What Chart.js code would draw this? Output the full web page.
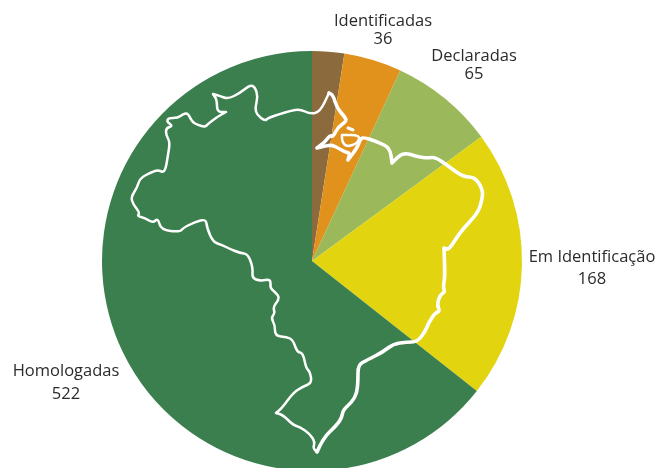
<!DOCTYPE html>
<html lang="pt">
<head>
    <meta charset="UTF-8">
    <title>Terras Indígenas</title>
    <style>
        html, body { margin: 0; padding: 0; background: #fff; overflow: hidden; height: 468px; }
        canvas { display: block; }
    </style>
    <script src="https://cdn.jsdelivr.net/npm/chart.js"></script>
</head>
<body>
    <canvas id="pie-chart" width="657" height="472"></canvas>
    <script>
        const categories = ['Sem nome', 'Identificadas', 'Declaradas', 'Em Identificação', 'Homologadas'];
        const values = [20, 36, 65, 168, 522];
        const colors = ['#8b6b3e', '#e0921c', '#9bb85b', '#e2d510', '#3b7f4f'];

        // label anchors, px: [category index, x, name y, value y]
        const labelSpots = [
            [1, 383, 21, 39],
            [2, 474, 56, 74],
            [3, 592, 257, 279],
            [4, 66, 371, 394]
        ];

        // map of Brazil over the pie, traced in px. doubled points keep the sharp tips
        const mapWest = [[329,93],[329,93],[320,112],[310,114],[300,109],[290,111],[280,114],[268,118],[265,121],[257,115],[255,108],[258,97],[255,87],[250,85],[240,93],[228,99],[220,96],[213,94],[213,94],[217,100],[217,112],[226,112],[226,112],[217,117],[208,124],[205,127],[198,125],[192,122],[188,113],[183,114],[178,118],[168,118],[167,122],[173,126],[166,128],[166,135],[170,142],[168,155],[165,173],[158,170],[152,172],[140,178],[137,188],[131,197],[133,204],[140,213],[137,216],[145,218],[153,223],[158,218],[161,230],[180,232],[183,228],[195,222],[206,219],[207,228],[213,242],[222,245],[230,249],[240,253],[248,254],[253,268],[252,278],[260,281],[271,279],[270,288],[275,292],[280,298],[273,307],[275,313],[271,318],[275,325],[275,336],[287,337],[293,340],[297,352],[303,353],[306,368],[310,372],[312,383],[302,387],[293,393],[282,408],[276,413],[276,413],[283,415],[293,425],[300,427],[310,434],[315,442],[313,448],[317,452]];
        const mapEast = [[317,452],[323,438],[337,425],[342,417],[343,410],[352,402],[357,393],[358,380],[358,365],[367,360],[383,352],[393,344],[407,342],[417,342],[425,332],[428,324],[435,313],[440,311],[437,305],[440,295],[445,292],[443,287],[445,277],[444,248],[444,248],[449,250],[460,232],[478,213],[482,200],[483,190],[475,177],[463,177],[447,165],[435,157],[428,158],[418,157],[403,152],[392,163],[392,163],[390,148],[378,142],[363,137],[360,140],[357,148],[348,160],[348,160],[350,153],[345,152],[338,148],[332,145],[325,146],[317,148],[317,148],[325,142],[330,135],[333,137],[338,127],[347,121],[344,116],[337,108],[333,95],[329,93]];
        const mapIsland = [[342,135],[342,135],[360,135],[358,143],[347,147],[342,142],[342,135],[342,135]];
        const mapIslets = [[348,128],[353,130]];

        function strokeLine(ctx, pts, width) {
            ctx.beginPath();
            ctx.moveTo(pts[0][0], pts[0][1]);
            for (let i = 1; i < pts.length - 1; i++) {
                const mx = (pts[i][0] + pts[i + 1][0]) / 2;
                const my = (pts[i][1] + pts[i + 1][1]) / 2;
                ctx.quadraticCurveTo(pts[i][0], pts[i][1], mx, my);
            }
            const last = pts[pts.length - 1];
            ctx.lineTo(last[0], last[1]);
            ctx.lineWidth = width;
            ctx.stroke();
        }

        const overlay = {
            id: 'overlay',
            afterDatasetsDraw(chart) {
                const ctx = chart.ctx;
                ctx.save();
                ctx.strokeStyle = '#fff';
                ctx.lineJoin = 'round';
                ctx.lineCap = 'round';
                strokeLine(ctx, mapWest, 2.5);
                strokeLine(ctx, mapEast, 3.6);
                strokeLine(ctx, mapIsland, 2.5);
                strokeLine(ctx, mapIslets, 3);

                ctx.fillStyle = '#2b2b2b';
                ctx.font = '16.5px "Open Sans"';
                ctx.textAlign = 'center';
                ctx.textBaseline = 'middle';
                labelSpots.forEach(s => {
                    ctx.fillText(categories[s[0]], s[1], s[2]);
                    ctx.fillText(String(values[s[0]]), s[1], s[3]);
                });
                ctx.restore();
            }
        };

        new Chart(document.getElementById('pie-chart').getContext('2d'), {
            type: 'pie',
            data: {
                labels: categories,
                datasets: [{
                    data: values,
                    backgroundColor: colors,
                    borderWidth: 0
                }]
            },
            options: {
                responsive: false,
                animation: false,
                layout: { padding: { left: 102, right: 135, top: 51, bottom: 1 } },
                plugins: {
                    legend: { display: false },
                    tooltip: { enabled: false }
                }
            },
            plugins: [overlay]
        });
    </script>
</body>
</html>
